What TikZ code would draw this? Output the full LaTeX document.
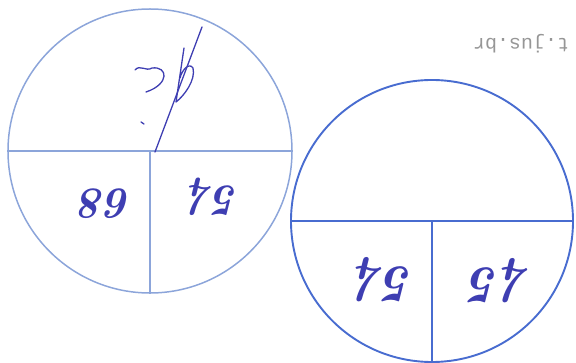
\documentclass[tikz,border=0pt]{standalone}
\usepackage{fontspec}
\newfontfamily\wmfont{Liberation Mono}
\definecolor{circA}{RGB}{140,165,218}
\definecolor{circB}{RGB}{72,108,208}
\definecolor{ink}{RGB}{62,62,178}
\definecolor{wmgray}{RGB}{150,150,150}
\tikzset{
  disk/.style={circle, draw, inner sep=0pt, minimum size=#1},
  hand/.style={text=ink, rotate=180, inner sep=0pt, font=\fontsize{44}{44}\selectfont\itshape\bfseries},
  handB/.style={hand, font=\fontsize{52}{52}\selectfont\itshape\bfseries},
  sig/.style={draw=ink, line width=1.3pt, line cap=round, line join=round},
}
\begin{document}
\begin{tikzpicture}[x=1pt,y=-1pt]
\useasboundingbox (0,0) rectangle (576,363);
% left circle
\node[disk=284pt, draw=circA, line width=1.5pt] (c1) at (150,151) {};
\draw[circA, line width=1.4pt] (c1.west) -- (c1.east);
\draw[circA, line width=1.4pt] (c1.center) -- (c1.south);
\node[hand] (n68) at (106,204) {68};
\node[hand] (n54a) at (213,197) {54};
% signature mark
\coordinate (s1) at (202,27);
\coordinate (s2) at (155,152);
\draw[sig] (s1) -- (s2);
\draw[sig] (135,70) .. controls (140,64) and (146,72) .. (152,68)
  .. controls (168,66) and (170,84) .. (146,92);
\draw[sig] (184,48) -- (176,102) .. controls (184,96) and (196,80) .. (193,68)
  .. controls (189,62) and (182,70) .. (180,78);
\draw[sig] (141,122) -- (144,124);
% right circle
\node[disk=282pt, draw=circB, line width=1.9pt] (c2) at (432,221) {};
\draw[circB, line width=1.9pt] (c2.west) -- (c2.east);
\draw[circB, line width=1.9pt] (c2.center) -- (c2.south);
\node[handB] (n54b) at (384,280) {54};
\node[handB] (n45) at (500,281) {45};
% watermark
\node[text=wmgray, rotate=180, inner sep=0pt, font=\wmfont\fontsize{20}{20}\selectfont] (wm) at (521,44) {t.jus.br};
\end{tikzpicture}
\end{document}
